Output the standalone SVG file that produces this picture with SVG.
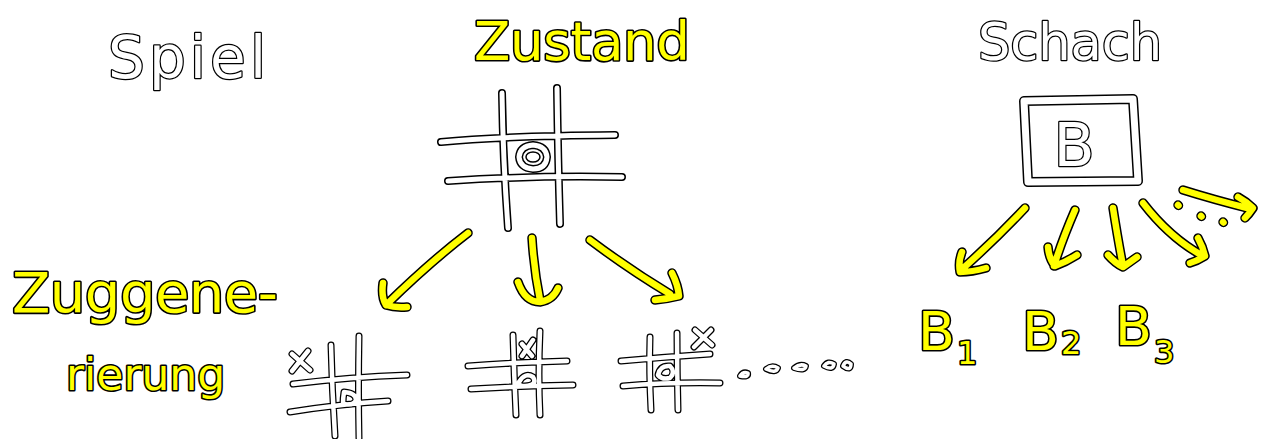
<svg xmlns="http://www.w3.org/2000/svg" xmlns:xlink="http://www.w3.org/1999/xlink" width="1272" height="439" viewBox="0 0 1272 439">
<style>
.ow{fill:none;stroke:#000;stroke-width:8;stroke-linecap:round;stroke-linejoin:round}
.iw{fill:none;stroke:#fff;stroke-width:5;stroke-linecap:round;stroke-linejoin:round}
.os{fill:none;stroke:#000;stroke-width:7;stroke-linecap:round;stroke-linejoin:round}
.is{fill:none;stroke:#fff;stroke-width:4.5;stroke-linecap:round;stroke-linejoin:round}
.ob{fill:none;stroke:#000;stroke-width:10;stroke-linecap:round;stroke-linejoin:round}
.ib{fill:none;stroke:#fff;stroke-width:7;stroke-linecap:round;stroke-linejoin:round}
.oy{fill:none;stroke:#000;stroke-width:9.5;stroke-linecap:round;stroke-linejoin:round}
.iy{fill:none;stroke:#ffff00;stroke-width:6.5;stroke-linecap:round;stroke-linejoin:round}
.tw{font-family:"DejaVu Sans",sans-serif;fill:#fff;stroke:#000;stroke-width:2.5;stroke-linejoin:round;paint-order:stroke}
.ty{font-family:"DejaVu Sans",sans-serif;fill:#ffff00;stroke:#000;stroke-width:3.2;stroke-linejoin:round;paint-order:stroke}
</style>
<defs>
<path id="mb" d="M502,93 Q503,160 508,228 M557,88 Q558,160 560,224 M441,142 Q500,136 615,135 M448,181 Q540,175 622,177"/>
<path id="mo" d="M533,145 Q546,146 547,157 Q546,169 533,169 Q520,168 519,157 Q520,146 533,145 Z"/>
<path id="cb" d="M1024,101 L1133,99 L1138,181 L1028,182 Z"/>
<path id="b1" d="M331,345 Q332,390 335,436 M359,336 Q358,390 359,438 M293,384 Q350,377 407,375 M290,412 Q340,404 388,401 M292,354 L310,370 M308,351 L292,371 M344,392 Q356,393 356,400 Q354,406 343,404 Q343,398 344,392 Z"/>
<path id="b2" d="M513,335 Q514,375 516,415 M540,331 Q538,375 540,415 M468,366 Q520,362 567,361 M471,389 Q520,386 573,385 M522,344 L532,356 M533,340 L522,356 M519,382 Q525,372 533,377 Q538,385 525,386 Q518,386 519,382 Z"/>
<path id="b3" d="M650,337 Q649,372 651,410 M677,333 Q677,372 678,410 M621,361 Q665,357 710,354 M623,386 Q670,382 720,383 M695,330 L712,345 M711,330 L694,347 M658,375 Q660,365 670,366 Q676,372 670,378 Q662,380 658,375 Z"/>
<path id="dots" d="M740,376 Q743,371 748,373 Q749,378 740,376 Z M766,369 Q772,364 778,368 Q776,374 766,369 Z M794,368 Q800,363 806,366 Q805,372 794,368 Z M824,366 Q828,360 834,364 Q833,371 824,366 Z M843,366 Q846,359 851,364 Q851,372 843,366 Z"/>
<path id="a1" d="M468,233 Q430,262 386,305 M383,283 Q381,297 386,305 Q395,308 407,307"/>
<path id="a2" d="M532,238 Q534,270 540,300 M518,282 Q525,302 540,302 Q553,300 558,288"/>
<path id="a3" d="M590,240 Q630,270 670,294 M672,273 Q678,285 679,296 Q667,299 655,300"/>
<path id="c1" d="M1025,208 Q995,240 960,271 M962,252 Q958,262 960,272 Q972,272 986,268"/>
<path id="c2" d="M1075,210 Q1062,240 1054,266 M1048,247 Q1049,259 1055,266 Q1066,262 1077,255"/>
<path id="c3" d="M1113,208 Q1118,240 1123,266 M1108,255 Q1115,263 1123,267 Q1130,262 1137,257"/>
<path id="c4" d="M1143,203 Q1170,238 1203,256 M1198,238 Q1203,247 1205,256 Q1197,261 1190,263"/>
<path id="c5" d="M1183,190 Q1215,200 1251,209 M1238,197 Q1247,202 1253,208 Q1249,214 1245,218"/>
<path id="cd" d="M1178,205 L1178.5,205.5 M1201,216 L1201.5,216.5 M1223,222 L1223.5,222.5"/>
</defs>
<rect width="1272" height="439" fill="#fff"/>

<g id="spiel-label"><text class="tw" x="108" y="78" font-size="58" textLength="158" lengthAdjust="spacing">Spiel</text></g>
<g id="zustand-label"><text class="ty" x="474" y="60" font-size="53" textLength="216" lengthAdjust="spacing">Zustand</text></g>
<g id="schach-label"><text class="tw" x="978" y="60" font-size="51" textLength="184" lengthAdjust="spacing">Schach</text></g>

<g id="state-board">
<use href="#mb" class="ow"/><use href="#mb" class="iw"/>
<use href="#mo" class="ow"/><use href="#mo" class="iw"/>
<ellipse cx="533" cy="157" rx="7" ry="5" fill="#fff" stroke="#000" stroke-width="1.5"/>
</g>

<g id="chess-board">
<use href="#cb" class="ob"/><use href="#cb" class="ib"/>
<text class="tw" x="1074" y="166" font-size="60" text-anchor="middle">B</text>
</g>

<g id="connectors">
<use href="#a1" class="oy"/><use href="#a1" class="iy"/>
<use href="#a2" class="oy"/><use href="#a2" class="iy"/>
<use href="#a3" class="oy"/><use href="#a3" class="iy"/>
<use href="#c1" class="oy"/><use href="#c1" class="iy"/>
<use href="#c2" class="oy"/><use href="#c2" class="iy"/>
<use href="#c3" class="oy"/><use href="#c3" class="iy"/>
<use href="#c4" class="oy"/><use href="#c4" class="iy"/>
<use href="#c5" class="oy"/><use href="#c5" class="iy"/>
<use href="#cd" class="oy"/><use href="#cd" class="iy"/>
</g>

<g id="zuggenerierung-label">
<text class="ty" x="12" y="312" font-size="56" textLength="266" lengthAdjust="spacing">Zuggene-</text>
<text class="ty" x="66" y="390" font-size="44">rierung</text>
</g>

<g id="move-board-1"><use href="#b1" class="os"/><use href="#b1" class="is"/></g>
<g id="move-board-2"><use href="#b2" class="os"/><use href="#b2" class="is"/></g>
<g id="move-board-3"><use href="#b3" class="os"/><use href="#b3" class="is"/></g>
<g id="ellipsis"><use href="#dots" class="os" style="stroke-width:6"/><use href="#dots" class="is" style="stroke-width:3.5"/></g>

<g id="b1-label"><text class="ty" x="918" y="350" font-size="54">B<tspan font-size="32" dx="2" dy="14">1</tspan></text></g>
<g id="b2-label"><text class="ty" x="1022" y="350" font-size="54">B<tspan font-size="32" dx="2" dy="4">2</tspan></text></g>
<g id="b3-label"><text class="ty" x="1115" y="345" font-size="54">B<tspan font-size="32" dx="2" dy="18">3</tspan></text></g>
</svg>
